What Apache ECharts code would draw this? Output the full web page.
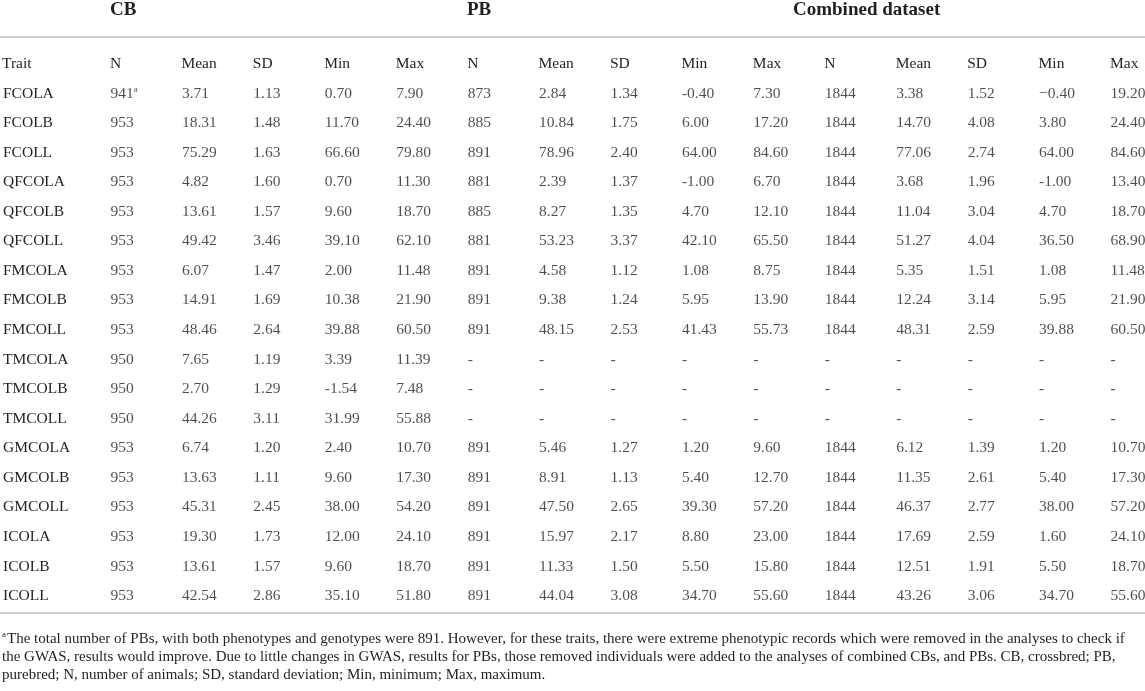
<!DOCTYPE html>
<html>
<head>
<meta charset="utf-8">
<script src="https://cdn.jsdelivr.net/npm/echarts@6/dist/echarts.min.js"></script>
<style>
html,body{margin:0;padding:0;background:#fff;}
#chart{width:1145px;height:691px;}
</style>
</head>
<body>
<div id="chart"></div>
<script>
// ---- data ----
const groups = ['CB', 'PB', 'Combined dataset'];
const columns = ['N', 'Mean', 'SD', 'Min', 'Max', 'N', 'Mean', 'SD', 'Min', 'Max', 'N', 'Mean', 'SD', 'Min', 'Max'];
const traits = ['FCOLA', 'FCOLB', 'FCOLL', 'QFCOLA', 'QFCOLB', 'QFCOLL', 'FMCOLA', 'FMCOLB', 'FMCOLL',
  'TMCOLA', 'TMCOLB', 'TMCOLL', 'GMCOLA', 'GMCOLB', 'GMCOLL', 'ICOLA', 'ICOLB', 'ICOLL'];
const cbRows = [
  ['941', '3.71', '1.13', '0.70', '7.90'],
  ['953', '18.31', '1.48', '11.70', '24.40'],
  ['953', '75.29', '1.63', '66.60', '79.80'],
  ['953', '4.82', '1.60', '0.70', '11.30'],
  ['953', '13.61', '1.57', '9.60', '18.70'],
  ['953', '49.42', '3.46', '39.10', '62.10'],
  ['953', '6.07', '1.47', '2.00', '11.48'],
  ['953', '14.91', '1.69', '10.38', '21.90'],
  ['953', '48.46', '2.64', '39.88', '60.50'],
  ['950', '7.65', '1.19', '3.39', '11.39'],
  ['950', '2.70', '1.29', '-1.54', '7.48'],
  ['950', '44.26', '3.11', '31.99', '55.88'],
  ['953', '6.74', '1.20', '2.40', '10.70'],
  ['953', '13.63', '1.11', '9.60', '17.30'],
  ['953', '45.31', '2.45', '38.00', '54.20'],
  ['953', '19.30', '1.73', '12.00', '24.10'],
  ['953', '13.61', '1.57', '9.60', '18.70'],
  ['953', '42.54', '2.86', '35.10', '51.80']
];
const pbRows = [
  ['873', '2.84', '1.34', '-0.40', '7.30'],
  ['885', '10.84', '1.75', '6.00', '17.20'],
  ['891', '78.96', '2.40', '64.00', '84.60'],
  ['881', '2.39', '1.37', '-1.00', '6.70'],
  ['885', '8.27', '1.35', '4.70', '12.10'],
  ['881', '53.23', '3.37', '42.10', '65.50'],
  ['891', '4.58', '1.12', '1.08', '8.75'],
  ['891', '9.38', '1.24', '5.95', '13.90'],
  ['891', '48.15', '2.53', '41.43', '55.73'],
  ['-', '-', '-', '-', '-'],
  ['-', '-', '-', '-', '-'],
  ['-', '-', '-', '-', '-'],
  ['891', '5.46', '1.27', '1.20', '9.60'],
  ['891', '8.91', '1.13', '5.40', '12.70'],
  ['891', '47.50', '2.65', '39.30', '57.20'],
  ['891', '15.97', '2.17', '8.80', '23.00'],
  ['891', '11.33', '1.50', '5.50', '15.80'],
  ['891', '44.04', '3.08', '34.70', '55.60']
];
const combinedRows = [
  ['1844', '3.38', '1.52', '\u22120.40', '19.20'],
  ['1844', '14.70', '4.08', '3.80', '24.40'],
  ['1844', '77.06', '2.74', '64.00', '84.60'],
  ['1844', '3.68', '1.96', '-1.00', '13.40'],
  ['1844', '11.04', '3.04', '4.70', '18.70'],
  ['1844', '51.27', '4.04', '36.50', '68.90'],
  ['1844', '5.35', '1.51', '1.08', '11.48'],
  ['1844', '12.24', '3.14', '5.95', '21.90'],
  ['1844', '48.31', '2.59', '39.88', '60.50'],
  ['-', '-', '-', '-', '-'],
  ['-', '-', '-', '-', '-'],
  ['-', '-', '-', '-', '-'],
  ['1844', '6.12', '1.39', '1.20', '10.70'],
  ['1844', '11.35', '2.61', '5.40', '17.30'],
  ['1844', '46.37', '2.77', '38.00', '57.20'],
  ['1844', '17.69', '2.59', '1.60', '24.10'],
  ['1844', '12.51', '1.91', '5.50', '18.70'],
  ['1844', '43.26', '3.06', '34.70', '55.60']
];
const rowHeader = 'Trait';
const noteMark = 'a';
const noteCell = [0, 0]; // [column, row] carrying the footnote mark
const footnoteLines = [
  'The total number of PBs, with both phenotypes and genotypes were 891. However, for these traits, there were extreme phenotypic records which were removed in the analyses to check if',
  'the GWAS, results would improve. Due to little changes in GWAS, results for PBs, those removed individuals were added to the analyses of combined CBs, and PBs. CB, crossbred; PB,',
  'purebred; N, number of animals; SD, standard deviation; Min, minimum; Max, maximum.'
];

// ---- build cells ----
const cells = [];
traits.forEach(function (t, r) {
  const row = cbRows[r].concat(pbRows[r], combinedRows[r]);
  row.forEach(function (txt, c) { cells.push([c, r, txt]); });
});

const FONT = 'Liberation Serif';
const INK = '#231f20';
const RULE = '#a6a6a6';

const chart = echarts.init(document.getElementById('chart'), null, {renderer: 'canvas'});
chart.setOption({
  backgroundColor: '#ffffff',
  animation: false,
  grid: {left: 109, right: 35, top: 93.5, bottom: 95, containLabel: false},
  xAxis: {
    type: 'category', data: columns, position: 'top', boundaryGap: false,
    axisLine: {show: false}, axisTick: {show: false}, splitLine: {show: false},
    axisLabel: {
      interval: 0, align: 'left', verticalAlign: 'middle', margin: 29.5,
      fontFamily: FONT, fontSize: 15.5, color: INK
    }
  },
  yAxis: {
    type: 'category', data: traits, inverse: true, boundaryGap: false,
    axisLine: {show: false}, axisTick: {show: false}, splitLine: {show: false},
    axisLabel: {
      interval: 0, align: 'left', verticalAlign: 'middle', margin: 107,
      fontFamily: FONT, fontSize: 15.5, color: INK
    }
  },
  series: [{
    type: 'scatter',
    data: cells,
    symbolSize: 1,
    itemStyle: {color: 'rgba(0,0,0,0)'},
    silent: true,
    label: {
      show: true, position: 'right', distance: 0,
      align: 'left', verticalAlign: 'middle',
      fontFamily: FONT, fontSize: 15.5, color: INK,
      formatter: function (p) {
        const d = p.data;
        if (d[0] === noteCell[0] && d[1] === noteCell[1]) return d[2] + '{sup|' + noteMark + '}';
        return d[2];
      },
      rich: {
        sup: {fontFamily: FONT, fontSize: 9, color: INK, verticalAlign: 'top', padding: [0, 0, 8, 0]}
      }
    }
  }],
  graphic: [
    {type: 'line', shape: {x1: 0, y1: 37, x2: 1145, y2: 37}, style: {stroke: RULE, lineWidth: 1.2}},
    {type: 'line', shape: {x1: 0, y1: 613, x2: 1145, y2: 613}, style: {stroke: RULE, lineWidth: 1.2}},
    {type: 'text', x: 110, y: 10, style: {text: groups[0], font: 'bold 19px "Liberation Serif"', fill: INK, textAlign: 'left', textVerticalAlign: 'middle'}},
    {type: 'text', x: 467, y: 10, style: {text: groups[1], font: 'bold 19px "Liberation Serif"', fill: INK, textAlign: 'left', textVerticalAlign: 'middle'}},
    {type: 'text', x: 793, y: 10, style: {text: groups[2], font: 'bold 19px "Liberation Serif"', fill: INK, textAlign: 'left', textVerticalAlign: 'middle'}},
    {type: 'text', x: 2, y: 64, style: {text: rowHeader, font: '15.5px "Liberation Serif"', fill: INK, textAlign: 'left', textVerticalAlign: 'middle'}},
    {type: 'text', x: 2, y: 630, style: {
      text: '{sup|' + noteMark + '}' + footnoteLines.join('\n'),
      font: '15px "Liberation Serif"', fill: INK, textAlign: 'left', textVerticalAlign: 'top',
      lineHeight: 18,
      rich: {sup: {fontSize: 9, fontFamily: FONT, fill: INK, verticalAlign: 'top', padding: [0, 1, 8, 0], lineHeight: 18}}
    }}
  ]
});
</script>
</body>
</html>
